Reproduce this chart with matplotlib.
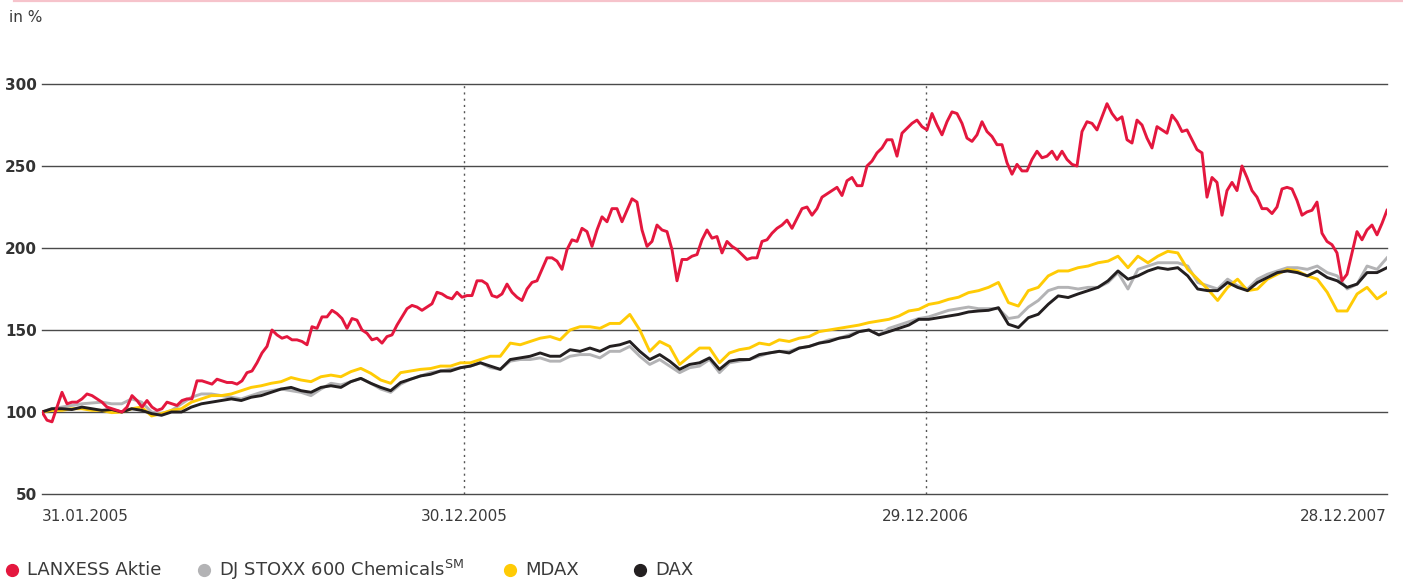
import matplotlib
matplotlib.use('Agg')
import matplotlib.pyplot as plt
import pandas as pd
from matplotlib.lines import Line2D

plt.rcParams['font.family'] = ['DejaVu Sans']

# ---------------- data ----------------
start_date, end_date = '2005-01-31', '2007-12-28'

lanxess = [
    100, 95, 94, 103, 112, 105, 106, 106, 108, 111,
    110, 108, 106, 103, 102, 101, 100, 103, 110, 107,
    103, 107, 103, 101, 102, 106, 105, 104, 107, 108,
    108, 119, 119, 118, 117, 120, 119, 118, 118, 117,
    119, 124, 125, 130, 136, 140, 150, 147, 145, 146,
    144, 144, 143, 141, 152, 151, 158, 158, 162, 160,
    157, 151, 157, 156, 150, 148, 144, 145, 142, 146,
    147, 153, 158, 163, 165, 164, 162, 164, 166, 173,
    172, 170, 169, 173, 170, 171, 171, 180, 180, 178,
    171, 170, 172, 178, 173, 170, 168, 175, 179, 180,
    187, 194, 194, 192, 187, 199, 205, 204, 212, 210,
    201, 211, 219, 216, 224, 224, 216, 223, 230, 228,
    211, 201, 204, 214, 211, 210, 199, 180, 193, 193,
    195, 196, 205, 211, 206, 207, 197, 204, 201, 199,
    196, 193, 194, 194, 204, 205, 209, 212, 214, 217,
    212, 218, 224, 225, 220, 224, 231, 233, 235, 237,
    232, 241, 243, 238, 238, 250, 253, 258, 261, 266,
    266, 256, 270, 273, 276, 278, 274, 272, 282, 275,
    269, 277, 283, 282, 276, 267, 265, 269, 277, 271,
    268, 263, 263, 252, 245, 251, 247, 247, 254, 259,
    255, 256, 259, 254, 259, 254, 251, 250, 271, 277,
    276, 272, 280, 288, 282, 278, 280, 266, 264, 278,
    275, 267, 261, 274, 272, 270, 281, 277, 271, 272,
    266, 260, 258, 231, 243, 240, 220, 235, 240, 235,
    250, 243, 235, 231, 224, 224, 221, 225, 236, 237,
    236, 229, 220, 222, 223, 228, 209, 204, 202, 197,
    180, 184, 197, 210, 205, 211, 214, 208, 215, 223,
]

stoxx = [
    100, 102, 103, 104, 105, 105.5, 106, 105, 105, 108,
    106, 100, 99, 101, 105, 109, 111, 111, 110, 109,
    108, 110, 112, 113, 114, 113, 112, 110, 114, 117.5,
    116.5, 118.5, 120.5, 117.5, 114, 112, 117, 120, 122, 124,
    125, 126, 127, 128, 130, 127, 126, 131, 132, 132,
    133, 131, 131, 134, 135, 135, 133, 137, 137, 140,
    134, 129, 132, 128, 124, 127, 128, 132, 124, 130,
    131, 132, 134, 136, 137, 137, 139, 140, 142, 144,
    145, 147, 149, 150, 147, 151, 153, 155, 157, 158,
    160, 162, 163, 164, 163, 163, 163, 157, 158, 164,
    168, 174, 176, 176, 175, 176, 176, 179, 185, 175,
    187, 189, 191, 191, 191, 189, 179, 177, 175, 181,
    177, 175, 181, 184, 186, 188, 188, 187, 189, 185,
    183, 175, 178, 189, 187, 194,
]

mdax = [
    100, 101, 101, 102, 102, 101, 101, 99.6, 100, 102,
    103, 97.6, 99, 101, 102, 106, 108, 110, 110, 111,
    113, 115, 116, 117.5, 118.5, 121, 119.5, 118.5, 121.5, 122.5,
    121.5, 124.6, 126.6, 123.6, 119.5, 117.5, 124, 125, 126, 126.5,
    128, 128, 130, 130, 132, 134, 134, 142, 141, 143,
    145, 146, 144, 150, 152, 152, 151, 154, 154, 159.5,
    150, 137, 143, 140, 129, 134, 139, 139, 130, 136,
    138, 139, 142, 141, 144, 143, 145, 146, 149, 150,
    151, 152, 153, 154.5, 155.5, 156.5, 158.5, 161.6, 162.6, 165.6,
    166.7, 168.7, 170, 172.8, 174, 176, 179, 166.7, 164.6, 174,
    176, 183, 186, 186, 188, 189, 191, 192, 195, 188,
    195, 191, 195, 198, 197, 187, 181, 175, 168, 176,
    181, 174, 175, 181, 184, 187, 186, 183, 181, 173,
    161.6, 161.6, 172, 176, 169, 173,
]

dax = [
    100, 102, 102, 101.5, 103, 102, 101, 101.5, 100, 102,
    101, 99, 98, 100, 100, 103, 105, 106, 107, 108,
    107, 109, 110, 112, 114, 115, 113, 112, 115, 116,
    115, 118.5, 120.5, 117.5, 115, 113, 118, 120, 122, 123,
    125, 125, 127, 128, 130, 128, 126, 132, 133, 134,
    136, 134, 134, 138, 137, 139, 137, 140, 141, 143,
    137, 132, 135, 131, 126, 129, 130, 133, 126, 131,
    132, 132, 135, 136, 137, 136, 139, 140, 142, 143,
    145, 146, 149, 150, 147, 149, 151, 153, 156.5, 156.5,
    157.5, 158.5, 159.5, 161, 161.6, 162, 163.6, 153.5, 151.5, 157.5,
    159.6, 165.7, 170.8, 169.8, 172, 174, 176, 180, 186, 181,
    183, 186, 188, 187, 188, 183, 175, 174, 174, 179,
    176, 174, 179, 182, 185, 186, 185, 183, 186, 182,
    180, 176, 178, 185, 185, 188,
]

series_names = ['LANXESS Aktie', 'DJ STOXX 600 Chemicals$^{\\mathrm{SM}}$', 'MDAX', 'DAX']
year_end_dates = ['2005-12-30', '2006-12-29']
tick_dates = ['2005-01-31', '2005-12-30', '2006-12-29', '2007-12-28']
tick_labels = ['31.01.2005', '30.12.2005', '29.12.2006', '28.12.2007']
y_ticks = [50, 100, 150, 200, 250, 300]
y_unit = 'in %'

# ---------------- style ----------------
c_red, c_gray, c_yellow, c_black = '#e4173e', '#b3b3b5', '#ffcb05', '#231f20'
grid_color = '#4a4a4a'
text_color = '#3a3a3a'

W, H = 1403, 581
fig = plt.figure(figsize=(W / 100, H / 100), dpi=100)
ax = fig.add_axes([42 / W, (H - 494) / H, 1345 / W, 410 / H])

dates_fine = pd.date_range(start_date, end_date, periods=len(lanxess))
dates_coarse = pd.date_range(start_date, end_date, periods=len(dax))

for v in y_ticks:
    ax.axhline(v, color=grid_color, lw=1.0, zorder=1, clip_on=False)
for d in year_end_dates:
    ax.axvline(pd.Timestamp(d), color='#555555', lw=1.0, ls=(0, (1.5, 3)), zorder=1)

lw = 2.1
ax.plot(dates_coarse, stoxx, color=c_gray, lw=lw, zorder=2)
ax.plot(dates_coarse, mdax, color=c_yellow, lw=lw, zorder=3)
ax.plot(dates_coarse, dax, color=c_black, lw=lw, zorder=4)
ax.plot(dates_fine, lanxess, color=c_red, lw=lw, zorder=5)

ax.set_xlim(pd.Timestamp(start_date), pd.Timestamp(end_date))
ax.set_ylim(50, 300)
for s in ax.spines.values():
    s.set_visible(False)

ax.set_yticks(y_ticks)
ax.set_yticklabels([str(v) for v in y_ticks], fontsize=11, fontweight='bold', color='#333333')
ax.tick_params(axis='y', length=0, pad=3.6)

ax.set_xticks(pd.to_datetime(tick_dates))
ax.set_xticklabels(tick_labels, fontsize=11, color=text_color)
ax.tick_params(axis='x', length=0, pad=11)
for lab, ha in zip(ax.get_xticklabels(), ['left', 'center', 'center', 'right']):
    lab.set_ha(ha)

fig.text(9 / W, 1 - 17 / H, y_unit, fontsize=11, color=text_color, va='center', ha='left')

# top pink rule
fig.add_artist(Line2D([14 / W, 1.0], [1 - 0.8 / H, 1 - 0.8 / H], transform=fig.transFigure,
                      color='#f6c3cb', lw=1.6))

# legend
legend_colors = [c_red, c_gray, c_yellow, c_black]
legend_dot_x = [12, 204, 510, 640]
ly = 1 - 570 / H
for name, col, px in zip(series_names, legend_colors, legend_dot_x):
    fig.add_artist(Line2D([px / W], [ly], transform=fig.transFigure, marker='o',
                          ms=8.5, color=col, mec=col, lw=0))
    fig.text((px + 15) / W, ly, name, fontsize=13, color=text_color, va='center', ha='left')

fig.savefig('out.png', dpi=100)
